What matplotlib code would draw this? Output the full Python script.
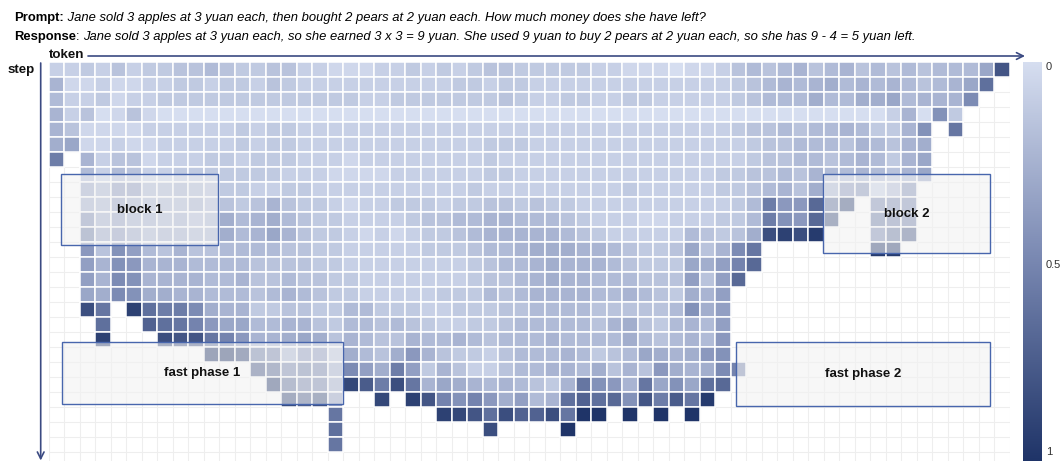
import numpy as np
import matplotlib
matplotlib.use("Agg")
import matplotlib.pyplot as plt
from matplotlib.colors import LinearSegmentedColormap, Normalize
from matplotlib.patches import Rectangle

plt.rcParams['font.family'] = ['Liberation Sans', 'DejaVu Sans']

W, H = 1063, 461

prompt_text = "Jane sold 3 apples at 3 yuan each, then bought 2 pears at 2 yuan each. How much money does she have left?"
response_text = ("Jane sold 3 apples at 3 yuan each, so she earned 3 x 3 = 9 yuan. She used 9 yuan to buy 2 pears "
                 "at 2 yuan each, so she has 9 - 4 = 5 yuan left.")

# value code: '.' = empty (token already decoded), 'a'..'z' = 0 .. 1 in steps of 1/25
LEVELS = "abcdefghijklmnopqrstuvwxyz"
D16 = "." * 16
rows = [
    "ccdcecddeefeddeeccbbbccdcdcdeed" + "ddddccbbbabbcefefgefgefefefffiu",
    "gbbcbbccddcddced" + "cccccccccc" + "ddcdd" + "ccccccccccccc" + "defgfghfgfgfefgiq.",
    "fccdbcc" + "ddddddddddddd" + "cc" + "ddddddd" + "ed" + "ccddccddcccccd" + "efffhffhhifgggm..",
    "gceabeb" + "a" * 24 + "a" * 23 + "cgald...",
    "gebbbbcccccc" + "dcdd" + "c" * 15 + "c" * 13 + "deefeffgfddgl.p...",
    "hibbcbbccccc" + "dcdd" + "c" * 12 + "ddd" + "c" * 14 + "deefffegfegh" + ".....",
    "o.gceebcccddcdddcccb" + "cccccccc" + "dcc" + "c" * 14 + "deeffefgfdgi" + ".....",
    "..fcfeccddddddd" + "cccbbbb" + "cccccc" + "ddc" + "c" * 12 + "ddeefegffgfegi" + ".....",
    "..igkkgghgf" + "ddccdd" + "cccccccccc" + "dccc" + "cccccc" + "d" + "ccccc" + "ddefgehgklcfl" + "......",
    "..hgjhggghf" + "edegeddcbccdddcddeed" + "eddcccccccccc" + "dfokkrqw.mmm" + "......",
    "..mhjhhghfg" + "hfghfeddccccdeeffggf" + "ffedcccbbcccd" + "dfolkrv..onn" + "......",
    "..oikighhgg" + "hfgigeddcbcbcddefggg" + "ggfedccccc" + "fed" + "ehvxvy...mpt" + "......",
    "..keljfegee" + "ffffeeddcccccdddeffg" + "hhhggfedde" + "ieg" + "mp" + "......." + "yy" + ".......",
    "..jglkgggff" + "ffeeeeddccc" + "cccccdeff" + "ghgggfeddd" + "ihj" + "nr" + D16,
    "..jgmlggggffgeefeeddcc" + "cccccdeefghggfffeeejejr." + D16,
    "..ihmlhhggfffefgfeddcc" + "cccdddfefggggffgfedhgj.." + D16,
    "..vp.xqoomhggddeeddffd" + "ddccdddeeffffeeeeeflhj.." + D16,
    "...q..sqpnkiiffggedffe" + "fedccddefffffeghedfgfj.." + D16,
    "...x...vuupnkgghihegfe" + "egffgfefffgffffhfefgfk.." + D16,
    ".........." + "zzxongkkehfe" + "hkgeddcefffgfdefihghkl.." + D16,
    "............." + "usnonhmjh" + "ojdgecceffggfhegekhghmn.." [:24] + D16,
    ".............." + "yqnnhwto" + "vpgihgfgfedgplkgpiliqr.." + D16,
    "..............." + "wtvj..w" + ".xunlnkhjfgqsqrluotpy..." + D16,
    ".................." + "p..." + "...xwuqvssvpzz.z.z.z...." + D16,
    ".................." + "q..." + "......v....z............" + D16,
    ".................." + "p..." + "." * 24 + D16,
    "." * 62,
]
rows = [(r + "." * 62)[:62] for r in rows]
values = np.array([[np.nan if ch == "." else LEVELS.index(ch) / 25 for ch in r] for r in rows])
n_rows, n_cols = values.shape

# annotation boxes: (label, col0, row0, col1, row1)
boxes = [
    ("block 1", 0.82, 7.47, 10.94, 12.18),
    ("block 2", 49.97, 7.47, 60.7, 12.69),
    ("fast phase 1", 0.83, 18.63, 19.0, 22.8),
    ("fast phase 2", 44.34, 18.67, 60.7, 22.9),
]

cmap = LinearSegmentedColormap.from_list("navy", ["#d6def0", "#7887b1", "#1f3468"])
norm = Normalize(0, 1)

fig = plt.figure(figsize=(W / 100, H / 100), dpi=100)
fig.patch.set_facecolor("white")

top_px = 62.3
ax = fig.add_axes([48.7 / W, 0, 961 / W, (H - top_px) / H])
ax.set_xlim(0, n_cols)
ax.set_ylim((H - top_px) / 15.0, 0)
ax.axis("off")

for i in range(n_cols + 1):
    ax.axvline(i, color="#eeeeee", lw=0.8, zorder=0)
for j in range(n_rows + 1):
    ax.axhline(j, color="#eeeeee", lw=0.8, zorder=0)

cols_idx = np.arange(n_cols)
for r in range(n_rows):
    ok = ~np.isnan(values[r])
    if ok.any():
        ax.bar(cols_idx[ok] + 0.5, 1.0, bottom=r, width=1.0, align="center",
               color=cmap(norm(values[r][ok])), edgecolor="white", linewidth=1.1, zorder=1)

for label, c0, r0, c1, r1 in boxes:
    ax.add_patch(Rectangle((c0, r0), c1 - c0, r1 - r0, facecolor=(0.95, 0.95, 0.95, 0.6),
                           edgecolor="#4866ad", lw=1.0, zorder=3))
    ax.text((c0 + c1) / 2, (r0 + r1) / 2, label, ha="center", va="center", fontsize=9.5,
            fontweight="bold", color="#111111", zorder=4)

# colour bar
cax = fig.add_axes([1023 / W, 0, 18.5 / W, (H - 62) / H])
grad = np.linspace(0, 1, 256).reshape(-1, 1)
cax.imshow(grad, aspect="auto", cmap=cmap, norm=norm, extent=(0, 1, 1, 0))
cax.axis("off")
for txt, y in [("0", 67), ("0.5", 265), ("1", 452)]:
    fig.text(1046 / W, 1 - y / H, txt, ha="left", va="center", fontsize=8, color="#333333")

# title lines
renderer = fig.canvas.get_renderer()


def put_line(parts, x, y):
    for txt, kw in parts:
        t = fig.text(x / W, 1 - y / H, txt, ha="left", va="center", fontsize=9.35, color="#000000", **kw)
        bb = t.get_window_extent(renderer)
        x = bb.x1


put_line([("Prompt:", dict(fontweight="bold")), (" " + prompt_text, dict(style="italic"))], 14, 18)
put_line([("Response", dict(fontweight="bold")), (": ", {}), (response_text, dict(style="italic"))], 14, 37)

# axis labels and arrows
fig.text(49 / W, 1 - 55 / H, "token", ha="left", va="center", fontsize=9.6, fontweight="bold", color="#111111")
fig.text(35 / W, 1 - 70 / H, "step", ha="right", va="center", fontsize=9.6, fontweight="bold", color="#111111")
arrow_kw = dict(arrowstyle="->", color="#3b4a82", lw=1.2, mutation_scale=12, shrinkA=0, shrinkB=0)
ax.annotate("", xy=(1025, H - 56), xytext=(88, H - 56), xycoords="figure pixels",
            textcoords="figure pixels", arrowprops=arrow_kw, annotation_clip=False)
ax.annotate("", xy=(40.7, 0.5), xytext=(40.7, H - 63), xycoords="figure pixels",
            textcoords="figure pixels", arrowprops=arrow_kw, annotation_clip=False)

fig.savefig("out.png", dpi=100, facecolor="white")
